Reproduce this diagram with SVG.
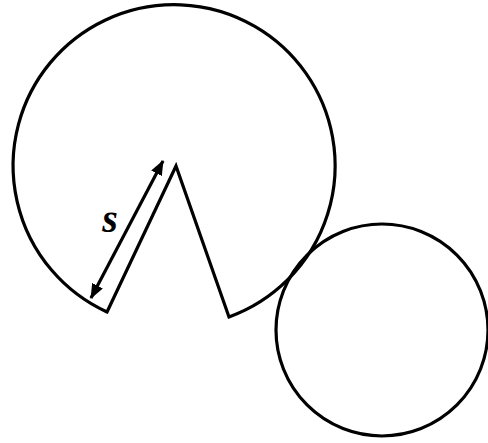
<svg xmlns="http://www.w3.org/2000/svg" width="488" height="443" viewBox="0 0 488 443">
<style>
.ln{fill:none;stroke:#000;stroke-width:3.2;stroke-linejoin:miter}
.lbl{font-family:"Liberation Serif",serif;font-style:italic;font-weight:bold;font-size:40px;fill:#000}
</style>
<defs>
<marker id="ah" viewBox="0 0 15 12" refX="14" refY="6" markerWidth="15" markerHeight="12" markerUnits="userSpaceOnUse" orient="auto-start-reverse">
<path d="M0,0 L15,6 L0,12 Z" fill="#000"/>
</marker>
</defs>
<rect width="488" height="443" fill="#fff"/>
<g id="big-disc">
<path class="ln" d="M107,312 L176,166 L229,317 A161,161 0 1 0 107,312 Z"/>
</g>
<g id="small-disc">
<circle class="ln" cx="382" cy="330" r="106"/>
</g>
<g id="connectors">
<line class="ln" x1="91" y1="298" x2="163" y2="161" stroke-width="3" marker-start="url(#ah)" marker-end="url(#ah)"/>
</g>
<g id="label-s">
<text class="lbl" x="110" y="232" text-anchor="middle">s</text>
</g>
</svg>
